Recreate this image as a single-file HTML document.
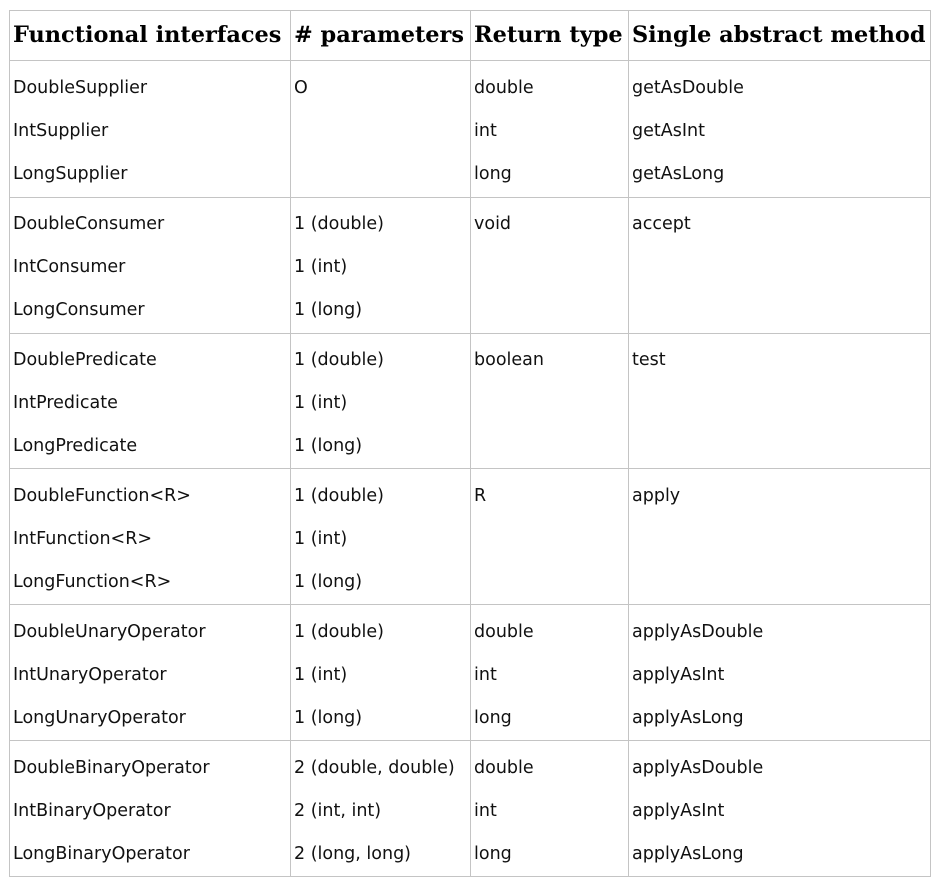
<!DOCTYPE html>
<html><head><meta charset="utf-8"><style>
body{margin:0;width:938px;height:882px;background:#fff;position:relative;overflow:hidden}
.l{position:absolute;background:#c4c4c4}
.t{position:absolute;font-family:"DejaVu Sans",sans-serif;font-size:17.5px;color:#111;line-height:20px;white-space:nowrap;margin-top:1px}
.h{position:absolute;font-family:"DejaVu Serif",serif;font-weight:bold;font-size:22.4px;color:#000;line-height:26px;white-space:nowrap;top:22px}
</style></head><body>
<div class="l" style="left:9px;top:10px;width:922px;height:1px"></div>
<div class="l" style="left:9px;top:60px;width:922px;height:1px"></div>
<div class="l" style="left:9px;top:197px;width:922px;height:1px"></div>
<div class="l" style="left:9px;top:333px;width:922px;height:1px"></div>
<div class="l" style="left:9px;top:468px;width:922px;height:1px"></div>
<div class="l" style="left:9px;top:604px;width:922px;height:1px"></div>
<div class="l" style="left:9px;top:740px;width:922px;height:1px"></div>
<div class="l" style="left:9px;top:876px;width:922px;height:1px"></div>
<div class="l" style="left:9px;top:10px;width:1px;height:867px"></div>
<div class="l" style="left:290px;top:10px;width:1px;height:867px"></div>
<div class="l" style="left:470px;top:10px;width:1px;height:867px"></div>
<div class="l" style="left:628px;top:10px;width:1px;height:867px"></div>
<div class="l" style="left:930px;top:10px;width:1px;height:867px"></div>

<div class="h" style="left:13px">Functional interfaces</div>
<div class="h" style="left:294px">#&nbsp;parameters</div>
<div class="h" style="left:474px">Return type</div>
<div class="h" style="left:632px">Single abstract method</div>

<div class="t" style="left:13px;top:77px">DoubleSupplier</div>
<div class="t" style="left:13px;top:120px">IntSupplier</div>
<div class="t" style="left:13px;top:163px">LongSupplier</div>
<div class="t" style="left:294px;top:77px">O</div>
<div class="t" style="left:474px;top:77px">double</div>
<div class="t" style="left:474px;top:120px">int</div>
<div class="t" style="left:474px;top:163px">long</div>
<div class="t" style="left:632px;top:77px">getAsDouble</div>
<div class="t" style="left:632px;top:120px">getAsInt</div>
<div class="t" style="left:632px;top:163px">getAsLong</div>

<div class="t" style="left:13px;top:213px">DoubleConsumer</div>
<div class="t" style="left:13px;top:256px">IntConsumer</div>
<div class="t" style="left:13px;top:299px">LongConsumer</div>
<div class="t" style="left:294px;top:213px">1 (double)</div>
<div class="t" style="left:294px;top:256px">1 (int)</div>
<div class="t" style="left:294px;top:299px">1 (long)</div>
<div class="t" style="left:474px;top:213px">void</div>
<div class="t" style="left:632px;top:213px">accept</div>

<div class="t" style="left:13px;top:349px">DoublePredicate</div>
<div class="t" style="left:13px;top:392px">IntPredicate</div>
<div class="t" style="left:13px;top:435px">LongPredicate</div>
<div class="t" style="left:294px;top:349px">1 (double)</div>
<div class="t" style="left:294px;top:392px">1 (int)</div>
<div class="t" style="left:294px;top:435px">1 (long)</div>
<div class="t" style="left:474px;top:349px">boolean</div>
<div class="t" style="left:632px;top:349px">test</div>

<div class="t" style="left:13px;top:485px">DoubleFunction&lt;R&gt;</div>
<div class="t" style="left:13px;top:528px">IntFunction&lt;R&gt;</div>
<div class="t" style="left:13px;top:571px">LongFunction&lt;R&gt;</div>
<div class="t" style="left:294px;top:485px">1 (double)</div>
<div class="t" style="left:294px;top:528px">1 (int)</div>
<div class="t" style="left:294px;top:571px">1 (long)</div>
<div class="t" style="left:474px;top:485px">R</div>
<div class="t" style="left:632px;top:485px">apply</div>

<div class="t" style="left:13px;top:621px">DoubleUnaryOperator</div>
<div class="t" style="left:13px;top:664px">IntUnaryOperator</div>
<div class="t" style="left:13px;top:707px">LongUnaryOperator</div>
<div class="t" style="left:294px;top:621px">1 (double)</div>
<div class="t" style="left:294px;top:664px">1 (int)</div>
<div class="t" style="left:294px;top:707px">1 (long)</div>
<div class="t" style="left:474px;top:621px">double</div>
<div class="t" style="left:474px;top:664px">int</div>
<div class="t" style="left:474px;top:707px">long</div>
<div class="t" style="left:632px;top:621px">applyAsDouble</div>
<div class="t" style="left:632px;top:664px">applyAsInt</div>
<div class="t" style="left:632px;top:707px">applyAsLong</div>

<div class="t" style="left:13px;top:757px">DoubleBinaryOperator</div>
<div class="t" style="left:13px;top:800px">IntBinaryOperator</div>
<div class="t" style="left:13px;top:843px">LongBinaryOperator</div>
<div class="t" style="left:294px;top:757px">2 (double, double)</div>
<div class="t" style="left:294px;top:800px">2 (int, int)</div>
<div class="t" style="left:294px;top:843px">2 (long, long)</div>
<div class="t" style="left:474px;top:757px">double</div>
<div class="t" style="left:474px;top:800px">int</div>
<div class="t" style="left:474px;top:843px">long</div>
<div class="t" style="left:632px;top:757px">applyAsDouble</div>
<div class="t" style="left:632px;top:800px">applyAsInt</div>
<div class="t" style="left:632px;top:843px">applyAsLong</div>
</body></html>
